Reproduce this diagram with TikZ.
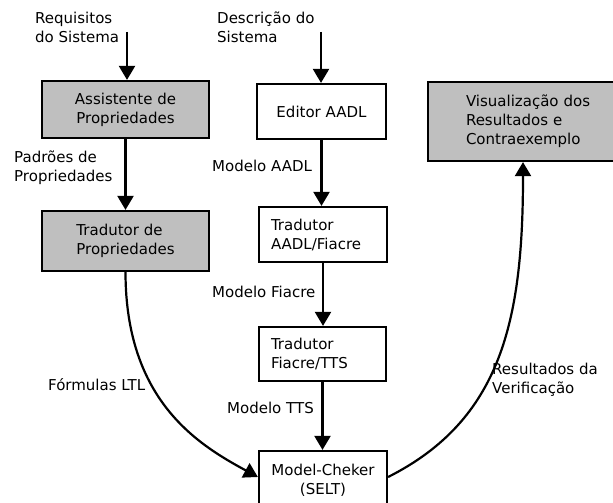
\documentclass[tikz,border=0pt]{standalone}
\usepackage{fontspec}
\setmainfont{DejaVu Sans}
\usetikzlibrary{arrows.meta}
\begin{document}
\begin{tikzpicture}[x=1pt,y=-1pt,
  every node/.style={font=\fontsize{15}{19}\selectfont},
  blk/.style={draw=black, line width=2.2pt, inner sep=0pt, align=center},
  shaded/.style={blk, fill=gray!50},
  lbl/.style={inner sep=0pt, anchor=base west, align=left},
  arr/.style={line width=2.2pt, -{Triangle[length=14pt,width=16pt]}}
]
\clip (0,0) rectangle (613,503);
\useasboundingbox (0,0) rectangle (613,503);
% boxes
\node[shaded, minimum width=167, minimum height=57] (assist) at (125.5,109.5) {Assistente de\\Propriedades};
\node[shaded, minimum width=167, minimum height=60, align=left] (tprop) at (125.5,241) {Tradutor de\\Propriedades};
\node[blk, minimum width=129, minimum height=55] (editor) at (321.5,111.5) {Editor AADL};
\node[blk, minimum width=128, minimum height=55, text width=104, inner xsep=12, align=left] (taadl) at (323,234.5) {Tradutor\\AADL/Fiacre};
\node[blk, minimum width=127, minimum height=54, text width=103, inner xsep=12, align=left] (ttts) at (322.5,354) {Tradutor\\Fiacre/TTS};
\node[blk, minimum width=128, minimum height=58] (model) at (323,480) {Model-Cheker\\(SELT)};
\node[shaded, minimum width=190, minimum height=79, text width=114, inner xsep=38, align=left] (vis) at (523,121.5) {\mbox{Visualização dos}\\\mbox{Resultados e}\\\mbox{Contraexemplo}};
% labels (base = baseline of last line)
\node[lbl] (req) at (35,43) {Requisitos\\do Sistema};
\node[lbl] (desc) at (217,43) {Descrição do\\Sistema};
\node[lbl] (pad) at (14,181) {Padrões de\\Propriedades};
\node[lbl] (maadl) at (212,171) {Modelo AADL};
\node[lbl] (mfiacre) at (212,297) {Modelo Fiacre};
\node[lbl] (mtts) at (227,413) {Modelo TTS};
\node[lbl] (form) at (48,390) {Fórmulas LTL};
\node[lbl] (res) at (492,393) {Resultados da\\Verificação};
% free ends
\coordinate (reqin) at (127,32);
\coordinate (descin) at (321,32);
% connectors
\draw[arr] (reqin) -- (reqin |- assist.north);
\draw[arr] (assist.south) -- (tprop.north);
\draw[arr] (descin) -- (descin |- editor.north);
\draw[arr] (editor.south) -- (editor.south |- taadl.north);
\draw[arr] (taadl.south) -- (taadl.south |- ttts.north);
\draw[arr] (ttts.south) -- (ttts.south |- model.north);
\draw[arr] (tprop.south) .. controls +(0,129) and +(-59,-32) .. ([yshift=3pt]model.west);
\draw[arr] ([yshift=3pt]model.east) .. controls +(113,-57) and +(0,159) .. (vis.south);
\end{tikzpicture}
\end{document}
